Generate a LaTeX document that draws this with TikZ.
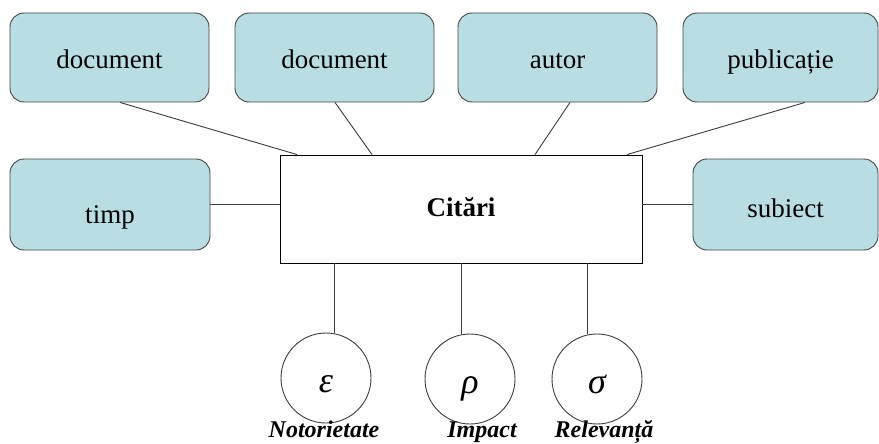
\documentclass[tikz,border=0pt]{standalone}
\usepackage{fontspec}
\setmainfont{Liberation Serif}
\usetikzlibrary{calc}
\definecolor{boxfill}{RGB}{184,222,227}
\definecolor{boxline}{RGB}{70,70,70}
\definecolor{conn}{RGB}{60,60,60}
\tikzset{
  attr/.style={draw=boxline, fill=boxfill, rounded corners=14pt, line width=0.9pt,
    inner sep=0pt, font=\fontsize{27}{30}\selectfont, text height=24pt, text depth=1pt},
  mainbox/.style={draw=black, fill=white, line width=0.9pt, inner sep=0pt,
    font=\fontsize{27}{30}\selectfont\bfseries, text height=15pt, text depth=1pt},
  measure/.style={draw=conn, circle, line width=0.9pt, minimum size=90pt, inner sep=0pt,
    font=\fontsize{36}{40}\selectfont\itshape, text height=30pt, text depth=2pt},
  mlabel/.style={inner sep=0pt, anchor=base, font=\fontsize{24}{28}\selectfont\bfseries\itshape},
  link/.style={draw=conn, line width=0.9pt}
}
\begin{document}
\begin{tikzpicture}[x=1pt,y=-1pt]
\useasboundingbox[fill=white] (0,0) rectangle (879,444);
% top boxes
\node[attr, minimum width=199pt, minimum height=89pt] (b1) at (109.5,57.5) {document};
\node[attr, minimum width=199pt, minimum height=89pt] (b2) at (334.5,57.5) {document};
\node[attr, minimum width=199pt, minimum height=89pt] (b3) at (557.5,57.5) {autor};
\node[attr, minimum width=195pt, minimum height=89pt] (b4) at (780.5,57.5) {publicație};
% middle row
\node[attr, minimum width=200pt, minimum height=91pt, text height=38pt, text depth=1pt] (timp) at (110,204.5) {timp};
\node[mainbox, minimum width=362pt, minimum height=108pt] (cit) at (461,209) {Citări};
\node[attr, minimum width=185pt, minimum height=91pt, text height=26pt, text depth=1pt] (subj) at (785.5,204.5) {subiect};
% circles
\node[measure] (eps) at (326,378) {ε};
\node[measure] (rho) at (470,379) {ρ};
\node[measure] (sig) at (597,379) {σ};
\node[mlabel] (l1) at (324,437) {Notorietate};
\node[mlabel] (l2) at (482,437) {Impact};
\node[mlabel] (l3) at (604,437) {Relevanță};
% connectors top
\draw[link] ([xshift=10.5pt]b1.south) -- ([xshift=-164pt]cit.north);
\draw[link] ([xshift=0.5pt]b2.south) -- ([xshift=-89pt]cit.north);
\draw[link] ([xshift=12.5pt]b3.south) -- ([xshift=74pt]cit.north);
\draw[link] ([xshift=24.5pt]b4.south) -- ([xshift=166pt]cit.north);
% side connectors
\draw[link] (timp.east) -- (timp.east -| cit.west);
\draw[link] (cit.east |- subj.west) -- (subj.west);
% bottom connectors
\coordinate (s1) at ([xshift=-127pt]cit.south);
\coordinate (s2) at ([xshift=0pt]cit.south);
\coordinate (s3) at ([xshift=126pt]cit.south);
\draw[link] (s1) -- (s1 |- eps.north);
\draw[link] (s2) -- (s2 |- rho.north);
\draw[link] (s3) -- (s3 |- sig.north);
\end{tikzpicture}
\end{document}
